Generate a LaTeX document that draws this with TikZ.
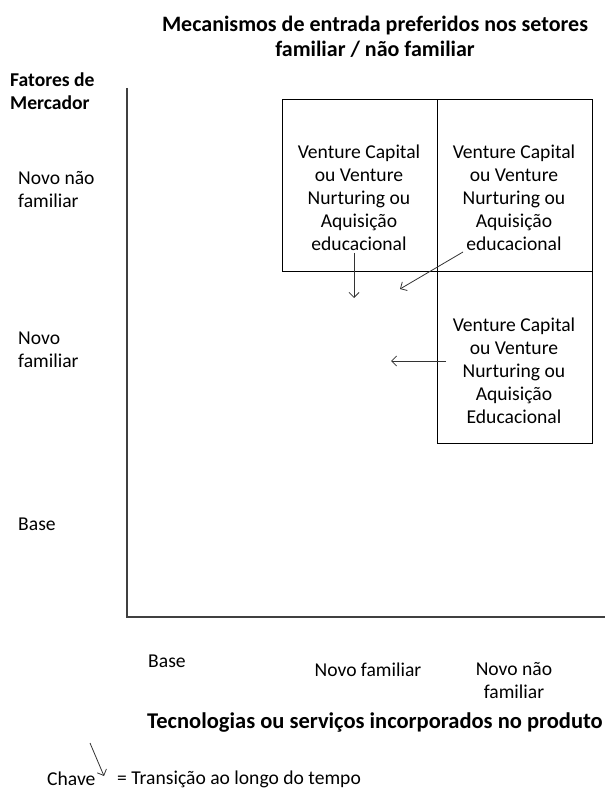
\documentclass[tikz,border=0pt]{standalone}
\usepackage{fontspec}
\setmainfont{Carlito}
\usetikzlibrary{arrows.meta}
\begin{document}
\begin{tikzpicture}[x=1pt,y=-1pt,
  txt/.style={inner sep=0pt,font=\fontsize{19.6}{23}\selectfont},
  bold/.style={txt,font=\fontsize{19.6}{23}\selectfont\bfseries},
  big/.style={txt,font=\fontsize{22}{25}\selectfont\bfseries},
  cell/.style={draw=black,line width=0.9pt,minimum width=155pt,minimum height=172pt,inner sep=0pt},
  axis/.style={draw=black!75,line width=1.3pt},
  trans/.style={draw=black!80,line width=0.8pt,-{Straight Barb[length=5pt,width=10pt]}}]
\useasboundingbox (0,0) rectangle (611,791);
% title
\node[big,align=center] (title) at (375,37) {Mecanismos de entrada preferidos nos setores\\familiar / não familiar};
% vertical axis label and levels
\node[bold,align=left,anchor=west] (ylab) at (10,91) {Fatores de\\Mercador};
\node[txt,align=left,anchor=west] (y3) at (18,190) {Novo não\\familiar};
\node[txt,align=left,anchor=west] (y2) at (18,350) {Novo\\familiar};
\node[txt,align=left,anchor=west] (y1) at (18,524) {Base};
% axes
\coordinate (top) at (127,88);
\coordinate (origin) at (127,617);
\coordinate (right) at (605,617);
\draw[axis] (top) -- (origin) -- (right);
% cells of the matrix
\node[cell] (c1) at (359.5,185) {};
\node[cell] (c2) at (514.5,185) {};
\node[cell] (c3) at (514.5,357) {};
\node[txt,align=center] (t1) at (359,198) {Venture Capital\\ou Venture\\Nurturing ou\\Aquisição\\educacional};
\node[txt,align=center] (t2) at (514,198) {Venture Capital\\ou Venture\\Nurturing ou\\Aquisição\\educacional};
\node[txt,align=center] (t3) at (514,371) {Venture Capital\\ou Venture\\Nurturing  ou\\Aquisição\\Educacional};
% transitions
\coordinate (a1s) at (354,253);
\coordinate (a1e) at (354,298);
\coordinate (a2s) at (463,252);
\coordinate (a2e) at (400,289);
\coordinate (a3s) at (446,361);
\coordinate (a3e) at (391,361);
\draw[trans] (a1s) -- (a1e);
\draw[trans] (a2s) -- (a2e);
\draw[trans] (a3s) -- (a3e);
% horizontal axis levels and label
\node[txt,anchor=west] (x1) at (148,661) {Base};
\node[txt] (x2) at (368,670) {Novo familiar};
\node[txt,align=center] (x3) at (514,681) {Novo não\\familiar};
\node[big,anchor=west,font=\fontsize{22.5}{25}\selectfont\bfseries] (xlab) at (147,723) {Tecnologias ou serviços incorporados no produto};
% key
\node[txt,anchor=west] (key) at (47,779) {Chave};
\node[txt,anchor=west] (keytext) at (117,779) {= Transição ao longo do tempo};
\coordinate (k1) at (90,743);
\coordinate (k2) at (104,776);
\draw[trans] (k1) -- (k2);
\end{tikzpicture}
\end{document}
